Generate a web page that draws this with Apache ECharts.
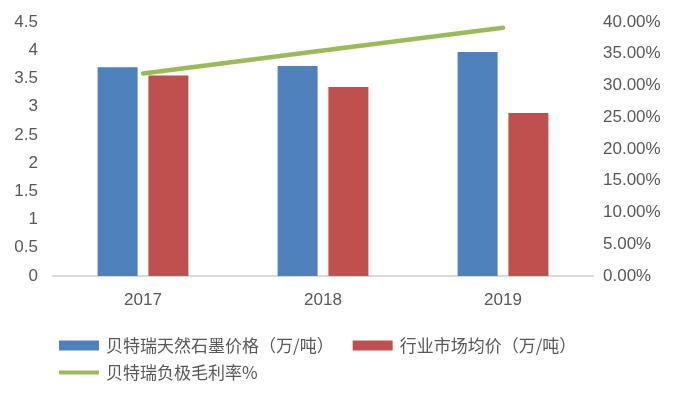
<!DOCTYPE html>
<html>
<head>
<meta charset="utf-8">
<script src="https://cdn.jsdelivr.net/npm/echarts@6/dist/echarts.min.js"></script>
<style>html,body{margin:0;padding:0;background:#fff}#c{width:682px;height:398px}</style>
</head>
<body>
<div id="c"></div>
<script>
var categories = ['2017', '2018', '2019'];
var btrPrice = [3.70, 3.72, 3.97];
var marketPrice = [3.55, 3.35, 2.89];
var grossMargin = [31.9, 35.5, 39.1];
var seriesNames = ['贝特瑞天然石墨价格（万/吨）', '行业市场均价（万/吨）', '贝特瑞负极毛利率%'];

var font = '"Liberation Sans", "Noto Sans CJK SC", sans-serif';
var txt = '#595959';
var chart = echarts.init(document.getElementById('c'), null, {renderer: 'canvas'});
chart.setOption({
  animation: false,
  textStyle: {fontFamily: font},
  grid: {left: 53, right: 89, top: 22, bottom: 122, containLabel: false},
  legend: [
    {
      data: [seriesNames[0], seriesNames[1]],
      left: 54, top: 332, itemWidth: 40, itemHeight: 10, itemGap: 19,
      icon: 'rect', textStyle: {fontSize: 17, color: txt, fontFamily: '"Noto Sans CJK SC", sans-serif', padding: [0, 0, 0, 2]}
    },
    {
      data: [{name: seriesNames[2], icon: 'roundRect'}],
      left: 54, top: 359, itemWidth: 40, itemHeight: 4,
      textStyle: {fontSize: 17, color: txt, fontFamily: '"Noto Sans CJK SC", sans-serif', padding: [0, 0, 0, 2]}
    }
  ],
  xAxis: {
    type: 'category', data: categories,
    axisLine: {lineStyle: {color: '#D9D9D9', width: 2}},
    axisTick: {show: false},
    axisLabel: {fontSize: 17, color: txt, margin: 16, fontFamily: font}
  },
  yAxis: [
    {
      type: 'value', min: 0, max: 4.5, interval: 0.5,
      splitLine: {show: false}, axisLine: {show: false}, axisTick: {show: false},
      axisLabel: {fontSize: 17, color: txt, margin: 15, fontFamily: font}
    },
    {
      type: 'value', min: 0, max: 40, interval: 5, position: 'right',
      splitLine: {show: false}, axisLine: {show: false}, axisTick: {show: false},
      axisLabel: {fontSize: 17, color: txt, margin: 10, fontFamily: font,
        formatter: function (v) { return v.toFixed(2) + '%'; }}
    }
  ],
  series: [
    {name: seriesNames[0], type: 'bar', data: btrPrice, barWidth: 40, barGap: '27%',
      itemStyle: {color: '#4F81BD'}},
    {name: seriesNames[1], type: 'bar', data: marketPrice, barWidth: 40,
      itemStyle: {color: '#C0504D'}},
    {name: seriesNames[2], type: 'line', yAxisIndex: 1, data: grossMargin,
      symbol: 'none', lineStyle: {color: '#9BBB59', width: 4.5, cap: 'round'},
      itemStyle: {color: '#9BBB59'}}
  ]
});
</script>
</body>
</html>
